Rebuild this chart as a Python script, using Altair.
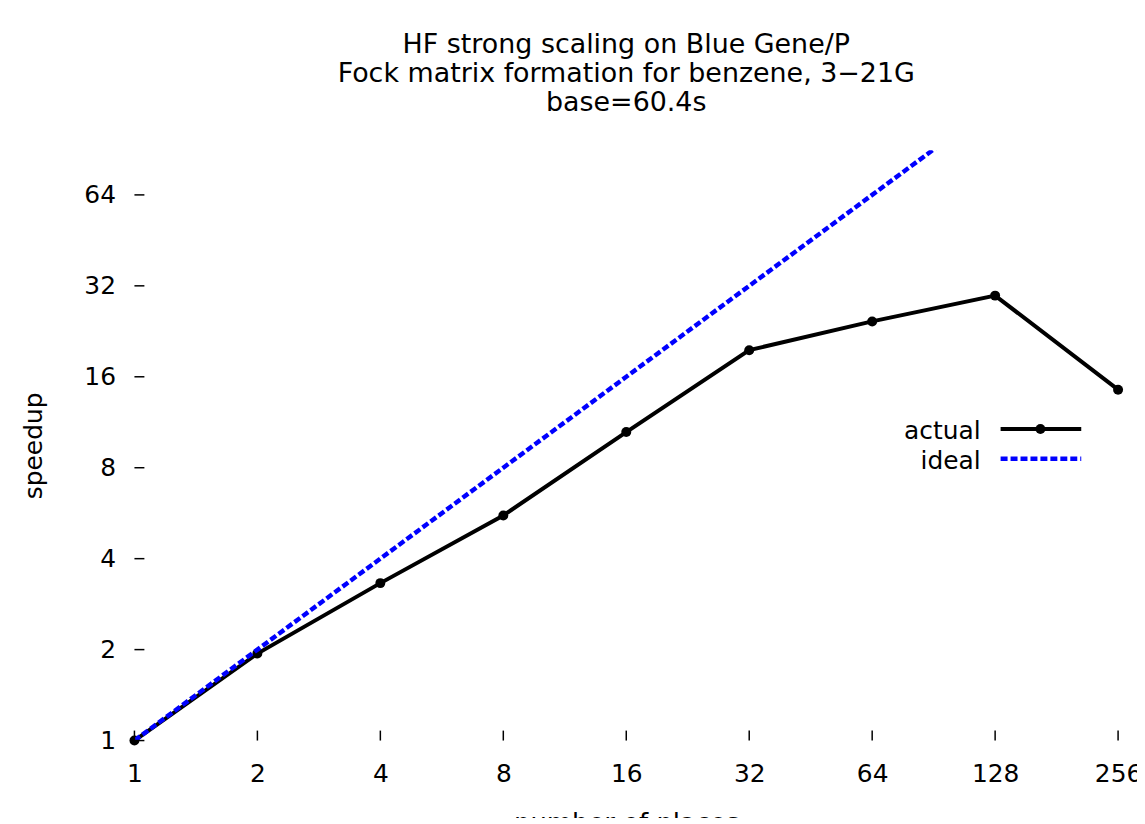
import altair as alt
import pandas as pd

# ---- data ----
places = [1, 2, 4, 8, 16, 32, 64, 128, 256]
actual_speedup = [1.0, 1.94, 3.32, 5.56, 10.5, 19.6, 24.4, 29.7, 14.5]
ideal_speedup = [1, 2, 4, 8, 16, 32, 64, 128, 256]
x_ticks = [1, 2, 4, 8, 16, 32, 64, 128, 256]
y_ticks = [1, 2, 4, 8, 16, 32, 64]
title_lines = [
    "HF strong scaling on Blue Gene/P",
    "Fock matrix formation for benzene, 3\u221221G",
    "base=60.4s",
]
legend_labels = ["actual", "ideal"]

FONT = "DejaVu Sans"
W, H = 988, 593

actual_df = pd.DataFrame({"places": places, "speedup": actual_speedup})
ideal_df = pd.DataFrame({"places": places, "speedup": ideal_speedup})
xt_df = pd.DataFrame({"t": x_ticks})
yt_df = pd.DataFrame({"t": y_ticks})

xs = alt.Scale(type="log", base=2, domain=[1, 256], nice=False)
ys = alt.Scale(type="log", base=2, domain=[1, 90], nice=False)

x_axis = alt.Axis(
    values=x_ticks, format="d", domain=False, ticks=False, grid=False,
    labelPadding=21, labelFontSize=25, labelFont=FONT, labelColor="black",
    labelFlush=False, labelOverlap=False, labelBound=False,
    title="number of places", titleFont=FONT, titleFontSize=26,
    titleFontWeight="normal", titleColor="black",
    titleX=494, titleY=91, titleAlign="center", titleBaseline="alphabetic",
)
y_axis = alt.Axis(
    values=y_ticks, format="d", domain=False, ticks=False, grid=False,
    labelPadding=19, labelFontSize=25, labelFont=FONT, labelColor="black",
    labelFlush=False, labelOverlap=False, labelBound=False,
    title="speedup", titleFont=FONT, titleFontSize=25,
    titleFontWeight="normal", titleColor="black", titleAngle=270,
    titleX=-101, titleY=296.5, titleAlign="center", titleBaseline="middle",
)

actual_line = alt.Chart(actual_df).mark_line(color="black", strokeWidth=4).encode(
    x=alt.X("places:Q", scale=xs, axis=x_axis),
    y=alt.Y("speedup:Q", scale=ys, axis=y_axis),
)
actual_pts = alt.Chart(actual_df).mark_point(
    filled=True, color="black", size=100, opacity=1
).encode(
    x=alt.X("places:Q", scale=xs),
    y=alt.Y("speedup:Q", scale=ys),
)
ideal_line = alt.Chart(ideal_df).mark_line(
    color="#0000ff", strokeWidth=4.5, strokeDash=[7, 3], clip=True
).encode(
    x=alt.X("places:Q", scale=xs),
    y=alt.Y("speedup:Q", scale=ys),
)

# inward tick marks
x_tick_marks = alt.Chart(xt_df).mark_rule(color="black", strokeWidth=1.5).encode(
    x=alt.X("t:Q", scale=xs), y=alt.value(H - 10), y2=alt.value(H)
)
y_tick_marks = alt.Chart(yt_df).mark_rule(color="black", strokeWidth=1.5).encode(
    y=alt.Y("t:Q", scale=ys), x=alt.value(0), x2=alt.value(10)
)

# legend (labels left of samples, as in the reference)
leg_df = pd.DataFrame({"label": legend_labels})
leg_actual_txt = alt.Chart(leg_df.iloc[[0]]).mark_text(
    align="right", baseline="alphabetic", fontSize=25, font=FONT, color="black"
).encode(text="label:N", x=alt.value(850), y=alt.value(290))
leg_ideal_txt = alt.Chart(leg_df.iloc[[1]]).mark_text(
    align="right", baseline="alphabetic", fontSize=25, font=FONT, color="black"
).encode(text="label:N", x=alt.value(850), y=alt.value(320))
leg_actual_line = alt.Chart(leg_df.iloc[[0]]).mark_rule(
    color="black", strokeWidth=4
).encode(x=alt.value(870), x2=alt.value(951), y=alt.value(280))
leg_actual_pt = alt.Chart(leg_df.iloc[[0]]).mark_point(
    filled=True, color="black", size=100, opacity=1
).encode(x=alt.value(910), y=alt.value(280))
leg_ideal_line = alt.Chart(leg_df.iloc[[1]]).mark_rule(
    color="#0000ff", strokeWidth=4.5, strokeDash=[7, 3]
).encode(x=alt.value(870), x2=alt.value(951), y=alt.value(310))

chart = alt.layer(
    actual_line, actual_pts, ideal_line, x_tick_marks, y_tick_marks,
    leg_actual_txt, leg_ideal_txt, leg_actual_line, leg_actual_pt, leg_ideal_line,
).properties(
    width=W, height=H,
    title=alt.TitleParams(
        text=title_lines, font=FONT, fontSize=27, fontWeight="normal",
        color="black", anchor="middle", frame="group", offset=6,
        lineHeight=29.5, baseline="bottom",
    ),
    padding={"left": 127, "top": 141, "right": 19, "bottom": 76},
    autosize=alt.AutoSizeParams(type="none"),
    background="white",
).configure_view(stroke=None)

chart.save("out.html", embed_options={"renderer": "svg", "actions": False})
